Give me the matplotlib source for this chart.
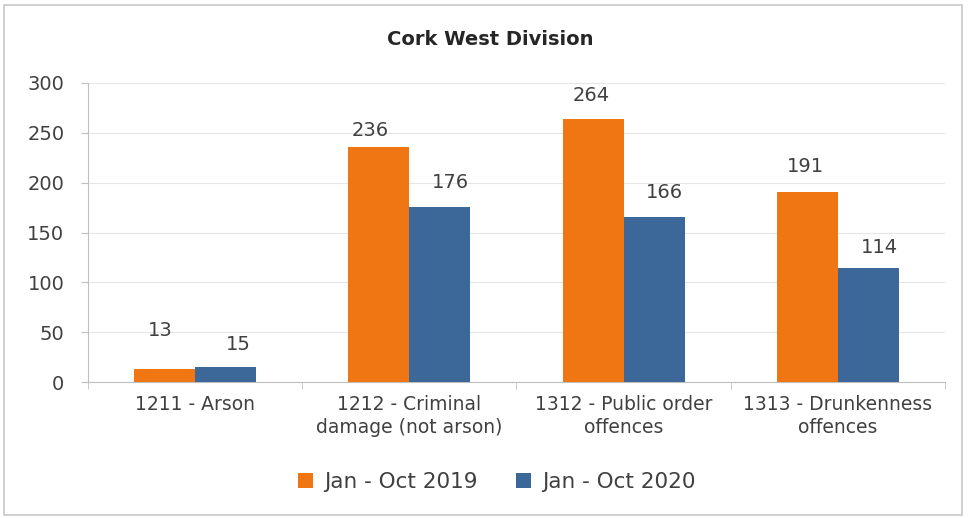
import matplotlib.pyplot as plt
import numpy as np

categories = ['1211 - Arson', '1212 - Criminal\ndamage (not arson)',
              '1312 - Public order\noffences', '1313 - Drunkenness\noffences']
series_names = ['Jan - Oct 2019', 'Jan - Oct 2020']
vals_2019 = [13, 236, 264, 191]
vals_2020 = [15, 176, 166, 114]

orange = '#F07613'
blue = '#3B6899'
grey_txt = '#404040'

# label nudges (x in category units, y in points) to mimic the manual placement
nudge_2019 = [(-0.02, 28), (-0.04, 12), (-0.01, 17), (-0.01, 18)]
nudge_2020 = [(0.06, 16), (0.05, 17), (0.05, 17), (0.05, 15)]

fig = plt.figure(figsize=(9.68, 5.18), dpi=100)
ax = fig.add_axes([0.0909, 0.2625, 0.8853, 0.5773])

x = np.arange(len(categories))
w = 0.285
b1 = ax.bar(x - w / 2, vals_2019, w, color=orange, label=series_names[0], zorder=3)
b2 = ax.bar(x + w / 2, vals_2020, w, color=blue, label=series_names[1], zorder=3)

for bars, vals, nudges in [(b1, vals_2019, nudge_2019), (b2, vals_2020, nudge_2020)]:
    for r, v, (dx, dy) in zip(bars, vals, nudges):
        ax.annotate(str(v), (r.get_x() + r.get_width() / 2 + dx, v),
                    xytext=(0, dy), textcoords='offset points',
                    ha='center', va='center', fontsize=14, color=grey_txt)

ax.set_xlim(-0.5, len(categories) - 0.5)
ax.set_ylim(0, 300)
ax.set_yticks(range(0, 301, 50))
ax.yaxis.grid(True, color='#E6E6E6', linewidth=0.8, zorder=0)
ax.set_axisbelow(True)

for s in ['top', 'right']:
    ax.spines[s].set_visible(False)
ax.spines['left'].set_color('#BFBFBF')
ax.spines['bottom'].set_color('#BFBFBF')

ax.set_xticks(x)
ax.set_xticklabels(categories, fontsize=13.5, color=grey_txt, linespacing=1.3)
ax.tick_params(axis='x', length=0, pad=9)
ax.set_xticks(np.arange(-0.5, len(categories)), minor=True)
ax.tick_params(axis='x', which='minor', length=5, color='#BFBFBF')
ax.tick_params(axis='y', labelsize=14, colors=grey_txt, length=5, color='#BFBFBF', pad=12)

fig.text(0.506, 0.923, 'Cork West Division', ha='center', va='center',
         fontsize=14, fontweight='bold', color='#262626')

ax.legend(loc='center', bbox_to_anchor=(0.513, 0.069), bbox_transform=fig.transFigure,
          ncol=2, frameon=False, fontsize=15.5,
          handlelength=0.7, handleheight=0.7, handletextpad=0.5, columnspacing=1.8,
          labelcolor=grey_txt)

# thin frame around the chart area
fig.patches.append(plt.Rectangle((0.004, 0.006), 0.99, 0.984, transform=fig.transFigure,
                                 fill=False, edgecolor='#C8C8C8', linewidth=1.2))

fig.savefig('out.png', dpi=100)
